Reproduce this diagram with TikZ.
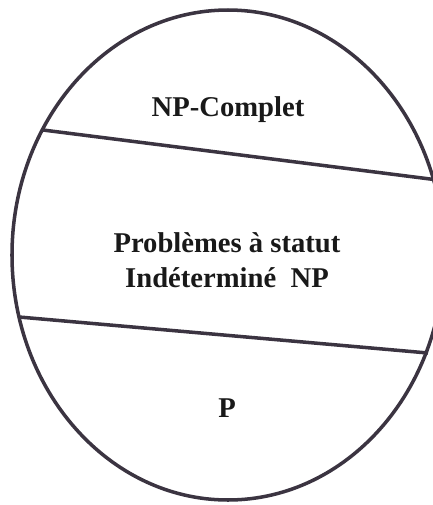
\documentclass[tikz,border=0pt]{standalone}
\usepackage{fontspec}
\setmainfont{Liberation Serif}
\definecolor{trait}{HTML}{3B3441}
\tikzset{
  bord/.style = {trait, line width=2pt},
  classe/.style = {font=\fontsize{16.3}{20}\selectfont\bfseries, align=center, text=black!90}
}
\begin{document}
\begin{tikzpicture}[x=0.02cm, y=-0.02cm]
                \useasboundingbox (0,0) rectangle (433,505);
                \draw[bord] (228,255) ellipse (216 and 245);
                \coordinate (h1) at (43,130);
                \coordinate (h2) at (438,180);
                \coordinate (b1) at (19,317);
                \coordinate (b2) at (428,353);
                \draw[bord] (h1) -- (h2);
                \draw[bord] (b1) -- (b2);
                \node[classe] (npc) at (228,110) {NP-Complet};
                \node[classe] (ind) at (227,260) {Problèmes à statut\\Indéterminé\ \ NP};
                \node[classe] (p) at (227,408) {P};
\end{tikzpicture}
\end{document}
